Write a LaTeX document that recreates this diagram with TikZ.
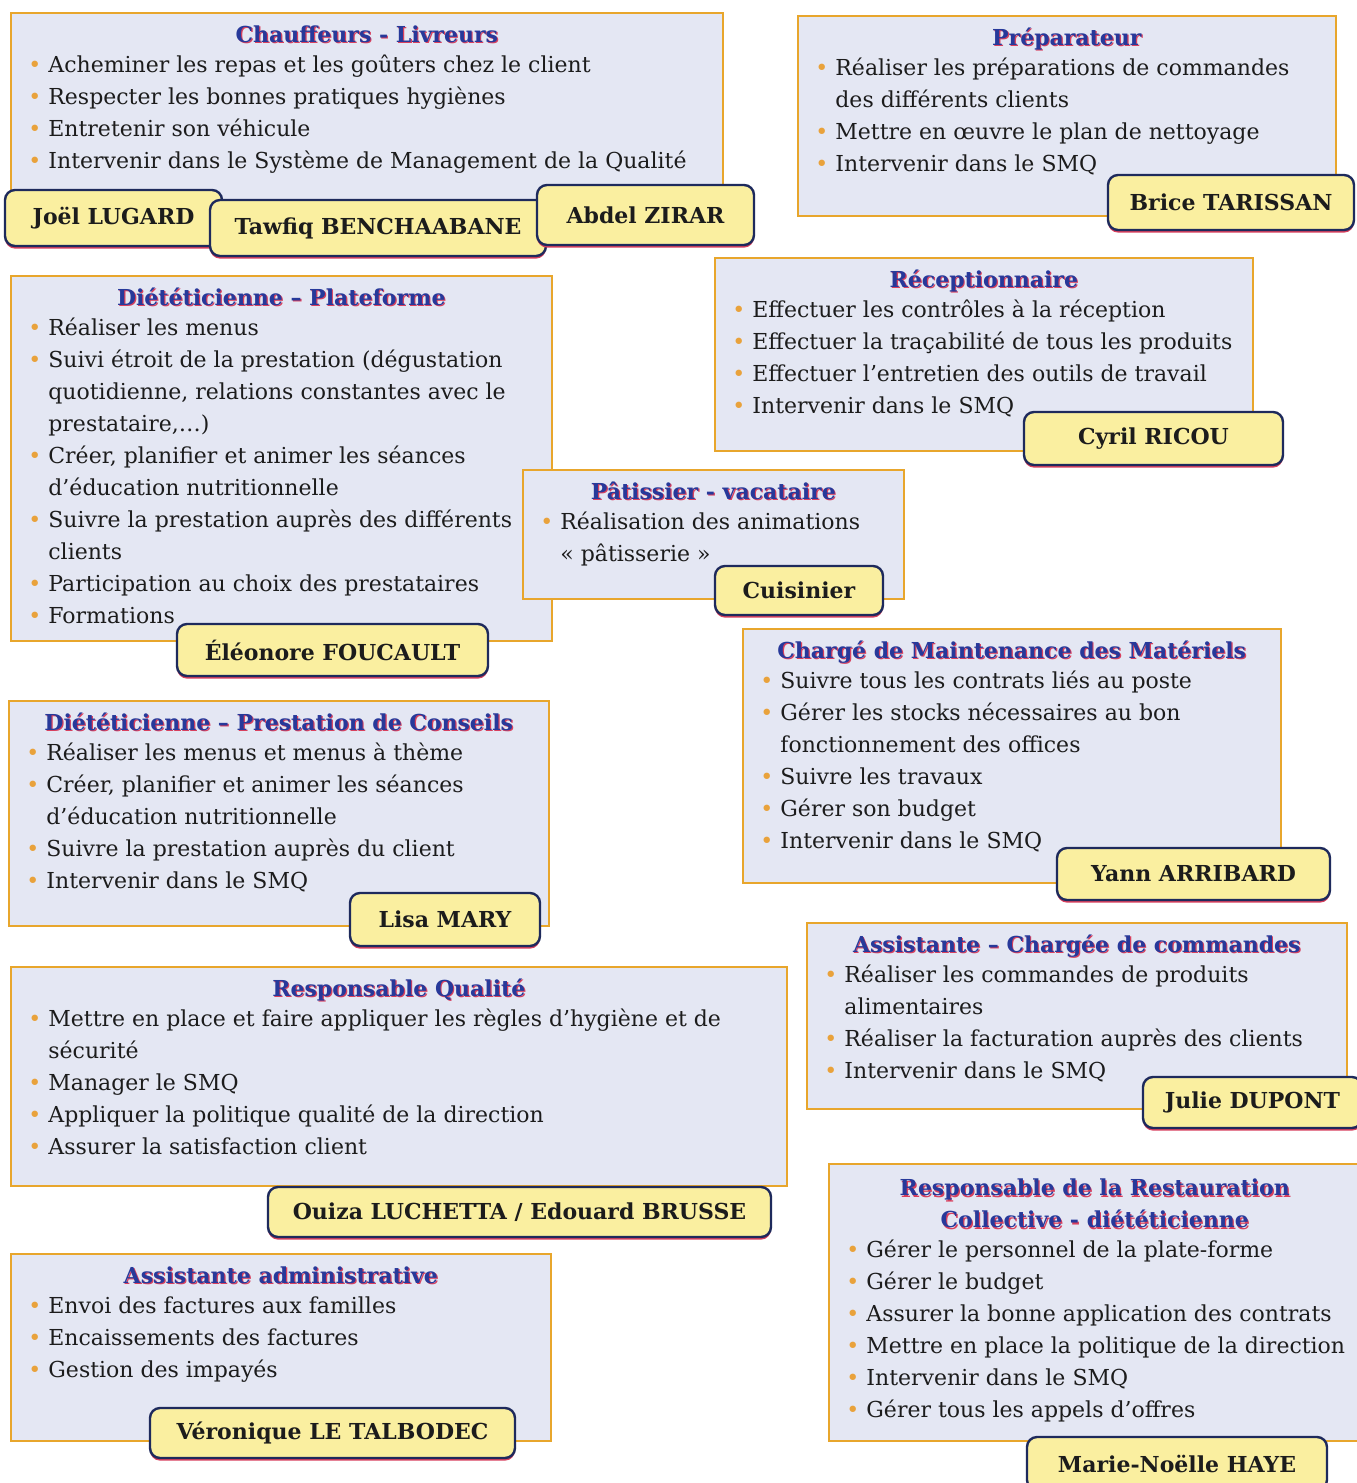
\documentclass[tikz,border=0pt]{standalone}
\usepackage{fontspec}
\setmainfont{DejaVu Serif}
\usepackage{xcolor}
\usetikzlibrary{positioning, shadows}

\definecolor{fond}{HTML}{E4E7F3}
\definecolor{bord}{HTML}{E8A62C}
\definecolor{titrecol}{HTML}{27399A}
\definecolor{ombrecol}{HTML}{D8405E}
\definecolor{jaune}{HTML}{FAEFA0}
\definecolor{marine}{HTML}{1E2A5C}
\definecolor{pucecol}{HTML}{E9A23B}
\definecolor{texte}{HTML}{1C1C1C}

\newcommand{\puce}{\strut\makebox[10pt][l]{\textcolor{pucecol}{\textbullet}}}
\newcommand{\suite}{\strut\hspace*{10pt}}
\newcommand{\ombre}[1]{\strut\makebox[0pt][l]{\kern0.6pt\raisebox{-0.6pt}{\textcolor{ombrecol}{#1}}}\textcolor{titrecol}{#1}}

\begin{document}
\begin{tikzpicture}[
        x=0.5pt, y=-0.5pt,
        cadre/.style={rectangle, draw=bord, line width=0.8pt, fill=fond, anchor=north west, inner sep=0pt},
        titre/.style={inner sep=0pt, align=center, font=\fontsize{11}{16}\selectfont\bfseries},
        items/.style={inner sep=0pt, align=left, text=texte, font=\fontsize{11}{16}\selectfont},
        nom/.style={rectangle, rounded corners=5pt, draw=marine, line width=1.2pt, fill=jaune,
            text=texte, font=\fontsize{11}{16}\selectfont\bfseries,
            drop shadow={shadow xshift=0pt, shadow yshift=-1.3pt, fill=ombrecol, opacity=1}}
        ]
        \useasboundingbox (0,0) rectangle (1356,1483);
        \fill[white] (0,0) rectangle (1356,1483);

        % chauffeurs
        \node[cadre, minimum width=356pt, minimum height=103pt] (chf) at (10,12) {};
        \node[titre, below=3.8pt of chf.north] (chft) {\ombre{Chauffeurs - Livreurs}};
        \node[items, below right=19pt and 9pt of chf.north west] (chfi) {\puce Acheminer les repas et les goûters chez le client\\
            \puce Respecter les bonnes pratiques hygiènes\\
            \puce Entretenir son véhicule\\
            \puce Intervenir dans le Système de Management de la Qualité};
        \node[nom, minimum width=108.5pt, minimum height=28pt] (lugard) at (113.5,218) {Joël LUGARD};
        \node[nom, minimum width=168pt, minimum height=28pt] (benchaabane) at (378,228) {Tawfiq BENCHAABANE};
        \node[nom, minimum width=108.5pt, minimum height=30pt] (zirar) at (645.5,215) {Abdel ZIRAR};

        % preparateur
        \node[cadre, minimum width=269pt, minimum height=100pt] (prep) at (797,15) {};
        \node[titre, below=3.8pt of prep.north] (prept) {\ombre{Préparateur}};
        \node[items, below right=19pt and 9pt of prep.north west] (prepi) {\puce Réaliser les préparations de commandes\\
            \suite des différents clients\\
            \puce Mettre en œuvre le plan de nettoyage\\
            \puce Intervenir dans le SMQ};
        \node[nom, minimum width=123pt, minimum height=27.5pt] (tarissan) at (1231,202.5) {Brice TARISSAN};

        % receptionnaire
        \node[cadre, minimum width=269pt, minimum height=96.5pt] (recep) at (714,257) {};
        \node[titre, below=3.8pt of recep.north] (recept) {\ombre{Réceptionnaire}};
        \node[items, below right=19pt and 9pt of recep.north west] (recepi) {\puce Effectuer les contrôles à la réception\\
            \puce Effectuer la traçabilité de tous les produits\\
            \puce Effectuer l’entretien des outils de travail\\
            \puce Intervenir dans le SMQ};
        \node[nom, minimum width=129.5pt, minimum height=26.5pt] (ricou) at (1153.5,438.5) {Cyril RICOU};

        % dieteticienne plateforme
        \node[cadre, minimum width=270.5pt, minimum height=182.5pt] (dietp) at (10,275) {};
        \node[titre, below=3.8pt of dietp.north] (dietpt) {\ombre{Diététicienne – Plateforme}};
        \node[items, below right=19pt and 9pt of dietp.north west] (dietpi) {\puce Réaliser les menus\\
            \puce Suivi étroit de la prestation (dégustation\\
            \suite quotidienne, relations constantes avec le\\
            \suite prestataire,…)\\
            \puce Créer, planifier et animer les séances\\
            \suite d’éducation nutritionnelle\\
            \puce Suivre la prestation auprès des différents\\
            \suite clients\\
            \puce Participation au choix des prestataires\\
            \puce Formations};
        \node[nom, minimum width=155.5pt, minimum height=26pt] (foucault) at (332.5,650) {Éléonore FOUCAULT};

        % patissier
        \node[cadre, minimum width=190.5pt, minimum height=64.5pt] (patis) at (522,469) {};
        \node[titre, below=3.8pt of patis.north] (patist) {\ombre{Pâtissier - vacataire}};
        \node[items, below right=19pt and 9pt of patis.north west] (patisi) {\puce Réalisation des animations\\
            \suite « pâtisserie »};
        \node[nom, minimum width=84pt, minimum height=24.5pt] (cuisinier) at (799,590.5) {Cuisinier};

        % maintenance
        \node[cadre, minimum width=269pt, minimum height=127pt] (maint) at (742,628) {};
        \node[titre, below=3.8pt of maint.north] (maintt) {\ombre{Chargé de Maintenance des Matériels}};
        \node[items, below right=19pt and 9pt of maint.north west] (mainti) {\puce Suivre tous les contrats liés au poste\\
            \puce Gérer les stocks nécessaires au bon\\
            \suite fonctionnement des offices\\
            \puce Suivre les travaux\\
            \puce Gérer son budget\\
            \puce Intervenir dans le SMQ};
        \node[nom, minimum width=136.5pt, minimum height=26pt] (arribard) at (1193.5,874) {Yann ARRIBARD};

        % dieteticienne conseils
        \node[cadre, minimum width=270pt, minimum height=112.5pt] (dietc) at (8,700) {};
        \node[titre, below=3.8pt of dietc.north] (dietct) {\ombre{Diététicienne – Prestation de Conseils}};
        \node[items, below right=19pt and 9pt of dietc.north west] (dietci) {\puce Réaliser les menus et menus à thème\\
            \puce Créer, planifier et animer les séances\\
            \suite d’éducation nutritionnelle\\
            \puce Suivre la prestation auprès du client\\
            \puce Intervenir dans le SMQ};
        \node[nom, minimum width=95pt, minimum height=26.5pt] (mary) at (445,919.5) {Lisa MARY};

        % commandes
        \node[cadre, minimum width=270pt, minimum height=93pt] (cmd) at (806,922) {};
        \node[titre, below=3.8pt of cmd.north] (cmdt) {\ombre{Assistante – Chargée de commandes}};
        \node[items, below right=19pt and 9pt of cmd.north west] (cmdi) {\puce Réaliser les commandes de produits\\
            \suite alimentaires\\
            \puce Réaliser la facturation auprès des clients\\
            \puce Intervenir dans le SMQ};
        \node[nom, minimum width=109.5pt, minimum height=25.5pt] (dupont) at (1252.5,1102.5) {Julie DUPONT};

        % qualite
        \node[cadre, minimum width=388pt, minimum height=109.5pt] (qual) at (10,966) {};
        \node[titre, below=3.8pt of qual.north] (qualt) {\ombre{Responsable Qualité}};
        \node[items, below right=19pt and 9pt of qual.north west] (quali) {\puce Mettre en place et faire appliquer les règles d’hygiène et de\\
            \suite sécurité\\
            \puce Manager le SMQ\\
            \puce Appliquer la politique qualité de la direction\\
            \puce Assurer la satisfaction client};
        \node[nom, minimum width=251.5pt, minimum height=25pt] (luchetta) at (519.5,1212) {Ouiza LUCHETTA / Edouard BRUSSE};

        % administrative
        \node[cadre, minimum width=270pt, minimum height=93.5pt] (admin) at (10,1253) {};
        \node[titre, below=3.8pt of admin.north] (admint) {\ombre{Assistante administrative}};
        \node[items, below right=19pt and 9pt of admin.north west] (admini) {\puce Envoi des factures aux familles\\
            \puce Encaissements des factures\\
            \puce Gestion des impayés};
        \node[nom, minimum width=182.5pt, minimum height=25pt] (talbodec) at (332.5,1433) {Véronique LE TALBODEC};

        % restauration
        \node[cadre, minimum width=266pt, minimum height=138.5pt] (resto) at (828,1163) {};
        \node[titre, below=5pt of resto.north] (restot) {\ombre{Responsable de la Restauration}\\ \ombre{Collective - diététicienne}};
        \node[items, below right=36pt and 9pt of resto.north west] (restoi) {\puce Gérer le personnel de la plate-forme\\
            \puce Gérer le budget\\
            \puce Assurer la bonne application des contrats\\
            \puce Mettre en place la politique de la direction\\
            \puce Intervenir dans le SMQ\\
            \puce Gérer tous les appels d’offres};
        \node[nom, minimum width=150pt, minimum height=26.5pt] (haye) at (1177,1463.5) {Marie-Noëlle HAYE};
\end{tikzpicture}
\end{document}
